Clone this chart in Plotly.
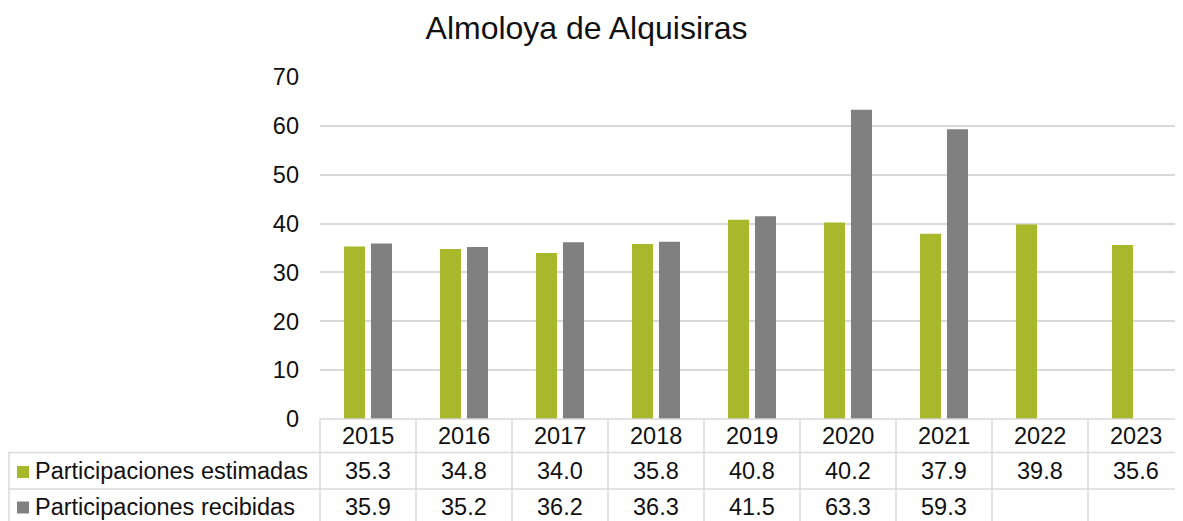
import plotly.graph_objects as go

years = ["2015", "2016", "2017", "2018", "2019", "2020", "2021", "2022", "2023"]
estimadas = [35.3, 34.8, 34.0, 35.8, 40.8, 40.2, 37.9, 39.8, 35.6]
recibidas = [35.9, 35.2, 36.2, 36.3, 41.5, 63.3, 59.3, None, None]
series_names = ["Participaciones estimadas", "Participaciones recibidas"]
series_colors = ["#A7B92A", "#808080"]
title_text = "Almoloya de Alquisiras"

# page body has an 8px margin; work in reference pixel coords and shift
O = 8
W, H = 1183 - O, 521 - O
L, R, T, B = 320 - O, 0, 77 - O, 102
PW = W - L - R
PH = H - T - B
FONT = "Liberation Sans, Arial, sans-serif"
GRID = "#D9D9D9"
TXT = "#111111"
FS = 23.5

def px(x):
    return (x - O - L) / PW

def py(y):
    return (H - B - (y - O)) / PH

fig = go.Figure()
for name, vals, col in zip(series_names, [estimadas, recibidas], series_colors):
    fig.add_trace(go.Bar(x=years, y=vals, name=name, marker=dict(color=col, line=dict(width=0))))

shapes = []
annotations = []
col_w = 96
row_top = [419, 452.5, 489, 530]
shapes.append(dict(type="line", xref="paper", yref="paper", x0=0, x1=px(1190), y0=py(row_top[0]), y1=py(row_top[0]),
                   line=dict(color=GRID, width=1.5)))
for yy in row_top[1:3]:
    shapes.append(dict(type="line", xref="paper", yref="paper", x0=px(8.5), x1=px(1190), y0=py(yy), y1=py(yy),
                       line=dict(color=GRID, width=1.5)))
shapes.append(dict(type="line", xref="paper", yref="paper", x0=px(9), x1=px(9), y0=py(row_top[1]), y1=py(row_top[3]),
                   line=dict(color=GRID, width=1.5)))
for k in range(len(years) + 1):
    xx = 320 + k * col_w
    shapes.append(dict(type="line", xref="paper", yref="paper", x0=px(xx), x1=px(xx), y0=py(row_top[0]), y1=py(row_top[3]),
                       line=dict(color=GRID, width=1.5)))

header_y = 436.5
row_y = [471, 506.5]
for i, yr in enumerate(years):
    cx = 320 + (i + 0.5) * col_w
    annotations.append(dict(text=yr, x=px(cx), y=py(header_y), xref="paper", yref="paper", showarrow=False,
                            xanchor="center", yanchor="middle", font=dict(family=FONT, size=FS, color=TXT)))
    for vals, ry in zip([estimadas, recibidas], row_y):
        v = vals[i]
        if v is not None:
            annotations.append(dict(text=f"{v:.1f}", x=px(cx), y=py(ry), xref="paper", yref="paper", showarrow=False,
                                    xanchor="center", yanchor="middle", font=dict(family=FONT, size=FS, color=TXT)))

for name, col, ry in zip(series_names, series_colors, row_y):
    shapes.append(dict(type="rect", xref="paper", yref="paper", x0=px(17), x1=px(29), y0=py(ry - 5), y1=py(ry + 7),
                       fillcolor=col, line=dict(width=0)))
    annotations.append(dict(text=name, x=px(33), y=py(ry), xref="paper", yref="paper", showarrow=False,
                            xanchor="left", yanchor="middle", font=dict(family=FONT, size=FS, color=TXT)))

fig.update_layout(
    width=W, height=H,
    margin=dict(l=L, r=R, t=T, b=B, pad=0),
    paper_bgcolor="white", plot_bgcolor="white",
    barmode="group", bargap=0.4375, bargroupgap=0.22,
    showlegend=False,
    title=dict(text=title_text, x=(586.5 - O) / W, y=1 - (28 - O) / H, xref="container", yref="container",
               xanchor="center", yanchor="middle", font=dict(family=FONT, size=32, color=TXT)),
    font=dict(family=FONT, size=FS, color=TXT),
    xaxis=dict(range=[-0.5, -0.5 + PW / col_w], showticklabels=False, showgrid=False, zeroline=False,
               showline=False, ticks=""),
    yaxis=dict(range=[0, 70], dtick=10, showgrid=True, gridcolor=GRID, gridwidth=1.5, zeroline=False,
               showline=False, ticks="", ticklabelstandoff=20, tickfont=dict(family=FONT, size=FS, color=TXT)),
    shapes=shapes, annotations=annotations,
)
fig.write_html("out.html")
